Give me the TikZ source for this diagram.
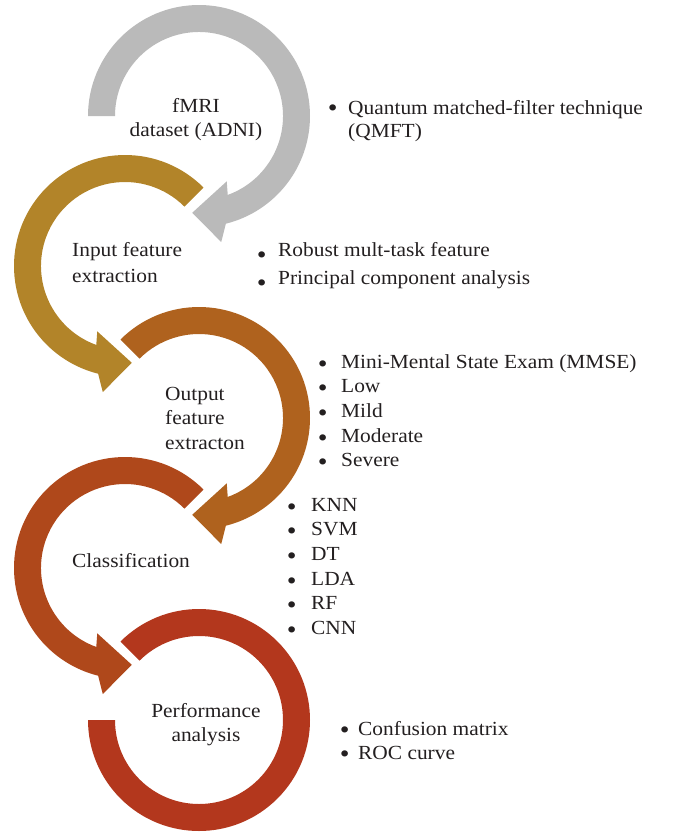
\documentclass[tikz,border=0pt]{standalone}
\usepackage{fontspec}
\setmainfont{Liberation Serif}[FakeStretch=1.07]
\definecolor{cgray}{HTML}{BABABA}
\definecolor{cgold}{HTML}{B28429}
\definecolor{corange}{HTML}{AF621E}
\definecolor{cbrown}{HTML}{AF481B}
\definecolor{cred}{HTML}{B3371D}
\definecolor{ink}{HTML}{231F20}
\newlength\bgap
\newlength\bh
\newcommand\bl[1]{\llap{\raisebox{\bh}{\scalebox{1.3}{\textbullet}}\hspace{\bgap}}#1}
\newcommand\cwarrow[3]{% center, start angle, colour
  \begin{scope}[shift={#1}]
    \fill[#3] (#2:111) arc[start angle=#2, end angle=-76, radius=111]
      -- (-80:128) -- (-94:97) -- (-67:71) -- (-70:84)
      arc[start angle=-70, end angle=#2, radius=84] -- cycle;
  \end{scope}}
\newcommand\ccwarrow[3]{%
  \begin{scope}[shift={#1}]
    \fill[#3] (#2:111) arc[start angle=#2, end angle=256, radius=111]
      -- (260:128) -- (274:97) -- (247:71) -- (250:84)
      arc[start angle=250, end angle=#2, radius=84] -- cycle;
  \end{scope}}
\begin{document}
\begin{tikzpicture}[x=1pt,y=1pt,
  txt/.style={inner sep=0pt, text=ink, font=\fontsize{20}{24.7}\selectfont},
  lw/.style={txt, anchor=base west},
  lc/.style={txt, anchor=base}]
\useasboundingbox (0,0) rectangle (676,-833);
% ring arrows
\cwarrow{(199,-116)}{180}{cgray}
\ccwarrow{(125,-266)}{45}{cgold}
\cwarrow{(199,-418)}{135}{corange}
\ccwarrow{(125,-568)}{45}{cbrown}
\begin{scope}[shift={(199,-720)}]
  \fill[cred] (135:111) arc[start angle=135, end angle=-180, radius=111]
    -- (-180:84) arc[start angle=-180, end angle=135, radius=84] -- cycle;
\end{scope}
% stage labels
\node[lc] (s1) at (196,-112) {\begin{tabular}[t]{@{}c@{}}fMRI\\dataset (ADNI)\end{tabular}};
\node[lw] (s2) at (72,-256) {\begin{tabular}[t]{@{}l@{}}Input feature\\[1.3pt]extraction\end{tabular}};
\node[lw] (s3) at (165,-400) {\begin{tabular}[t]{@{}l@{}}Output\\feature\\extracton\end{tabular}};
\node[lw] (s4) at (72,-567) {Classification};
\node[lc] (s5) at (206,-717) {\begin{tabular}[t]{@{}c@{}}Performance\\analysis\end{tabular}};
% bullet lists
\node[lw] (b1) at (348,-114) {\setlength\bgap{10.6pt}\setlength\bh{-2pt}\begin{tabular}[t]{@{}l@{}}\bl{Quantum matched-filter technique}\\[-1pt](QMFT)\end{tabular}};
\node[lw] (b2) at (278,-256) {\setlength\bgap{11.6pt}\setlength\bh{-7pt}\begin{tabular}[t]{@{}l@{}}\bl{Robust mult-task feature}\\[3.3pt]\bl{Principal component analysis}\end{tabular}};
\node[lw] (b3) at (341,-368) {\setlength\bgap{13.6pt}\setlength\bh{-4pt}\begin{tabular}[t]{@{}l@{}}\bl{Mini-Mental State Exam (MMSE)}\\\bl{Low}\\\bl{Mild}\\\bl{Moderate}\\\bl{Severe}\end{tabular}};
\node[lw] (b4) at (311,-511) {\setlength\bgap{14.6pt}\setlength\bh{-4pt}\begin{tabular}[t]{@{}l@{}}\bl{KNN}\\\bl{SVM}\\\bl{DT}\\\bl{LDA}\\\bl{RF}\\\bl{CNN}\end{tabular}};
\node[lw] (b5) at (358,-735) {\setlength\bgap{8.6pt}\setlength\bh{-3pt}\begin{tabular}[t]{@{}l@{}}\bl{Confusion matrix}\\\bl{ROC curve}\end{tabular}};
\end{tikzpicture}
\end{document}
